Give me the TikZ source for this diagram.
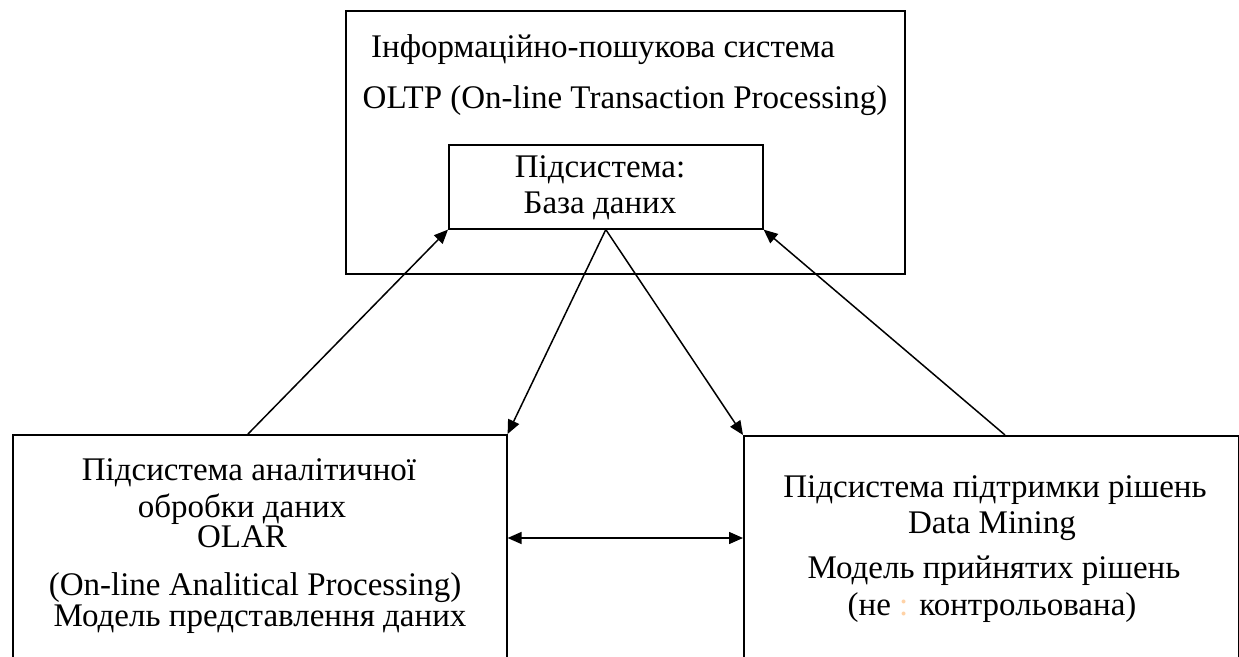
\documentclass[tikz,border=0pt]{standalone}
\usepackage{fontspec}
\setmainfont{Liberation Serif}
\usetikzlibrary{arrows.meta,calc}
\begin{document}
\begin{tikzpicture}[x=1pt,y=-1pt,
  box/.style={draw,line width=1.6pt,rectangle,minimum width=#1,anchor=north west,inner sep=0pt},
  txt/.style={anchor=base,inner sep=0pt,font=\fontsize{33}{39}\selectfont},
  arr/.style={line width=1.5pt,-{Triangle[length=14pt,width=12pt]}},
  darr/.style={line width=1.5pt,{Triangle[length=14pt,width=12pt]}-{Triangle[length=14pt,width=12pt]}}]
\useasboundingbox (0,0) rectangle (1239,656);
\clip (0,0) rectangle (1239,656);
% boxes
\node[box=559pt,minimum height=263pt] (sys) at (345,10) {};
\node[box=314pt,minimum height=84pt] (db) at (448,144) {};
\node[box=494pt,minimum height=240pt] (lbox) at (12,434) {};
\node[box=495pt,minimum height=240pt] (rbox) at (743,435) {};
% texts top
\node[txt] (t1) at (603,57) {Інформаційно-пошукова система};
\node[txt] (t2) at (625,108) {OLTP (On-line Transaction Processing)};
\node[txt] (d1) at (600,177) {Підсистема:};
\node[txt] (d2) at (600,213) {База даних};
% left texts
\node[txt] (l1) at (249,480) {Підсистема аналітичної};
\node[txt] (l2) at (242,517) {обробки даних};
\node[txt] (l3) at (242,547) {OLAR};
\node[txt] (l4) at (255,595) {(On-line Analitical Processing)};
\node[txt] (l5) at (260,626) {Модель представлення даних};
% right texts
\node[txt] (r1) at (995,497) {Підсистема підтримки рішень};
\node[txt] (r2) at (992,533) {Data Mining};
\node[txt] (r3) at (994,578) {Модель прийнятих рішень};
\node[txt] (r4) at (992,615) {(не \textcolor{orange!35}{:} контрольована)};
% connectors
\coordinate (la) at (248,434);
\coordinate (ra) at (1005,435);
\coordinate (mid) at (0,538);
\draw[arr] (la) -- (db.south west);
\draw[arr] (ra) -- (db.south east);
\draw[arr] (db.south) -- (lbox.north east);
\draw[arr] (db.south) -- (rbox.north west);
\draw[darr] (lbox.east |- mid) -- (rbox.west |- mid);
\end{tikzpicture}
\end{document}
